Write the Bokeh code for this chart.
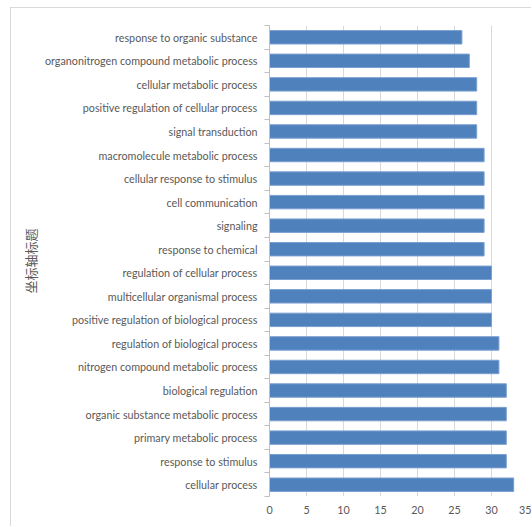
from bokeh.plotting import figure
from bokeh.models import Range1d, LinearAxis, FixedTicker, ColumnDataSource
from bokeh.embed import file_html
from bokeh.resources import INLINE

# categories listed top to bottom as in the chart
categories = [
    "response to organic substance",
    "organonitrogen compound metabolic process",
    "cellular metabolic process",
    "positive regulation of cellular process",
    "signal transduction",
    "macromolecule metabolic process",
    "cellular response to stimulus",
    "cell communication",
    "signaling",
    "response to chemical",
    "regulation of cellular process",
    "multicellular organismal process",
    "positive regulation of biological process",
    "regulation of biological process",
    "nitrogen compound metabolic process",
    "biological regulation",
    "organic substance metabolic process",
    "primary metabolic process",
    "response to stimulus",
    "cellular process",
]
counts = [26, 27, 28, 28, 28, 29, 29, 29, 29, 29,
          30, 30, 30, 31, 31, 32, 32, 32, 32, 33]
x_ticks = [0, 5, 10, 15, 20, 25, 30, 35]
axis_title = "坐标轴标题"

TEXT = "#595959"
FONT = "Lato"

n = len(categories)
centers = [n - i - 0.5 for i in range(n)]   # category slots, top to bottom
source = ColumnDataSource(data=dict(pos=centers, val=counts))

p = figure(width=521, height=519, output_backend="svg", toolbar_location=None,
           y_range=Range1d(0, n), x_range=Range1d(0, 35), y_axis_location=None,
           min_border_left=258, min_border_right=4, min_border_top=17,
           min_border_bottom=31)
p.outline_line_color = None
p.background_fill_color = "white"
p.border_fill_color = "white"
p.styles = {"margin-left": "10px", "margin-top": "7px",
            "border-left": "1px solid #D9D9D9", "border-top": "1px solid #D9D9D9"}
for g in p.ygrid:
    g.visible = False

# tick marks at category boundaries (nearest to plot)
edge_axis = LinearAxis(ticker=FixedTicker(ticks=list(range(n + 1))),
                       axis_line_color="#BFBFBF", major_tick_line_color="#BFBFBF",
                       major_tick_out=5, major_tick_in=0,
                       minor_tick_line_color=None,
                       major_label_text_font_size="1px",
                       major_label_text_alpha=0, major_label_standoff=0)
p.add_layout(edge_axis, "left")

cat_axis = LinearAxis(ticker=FixedTicker(ticks=centers),
                      major_label_overrides={c: name for c, name in zip(centers, categories)},
                      axis_line_color=None, major_tick_line_color=None,
                      minor_tick_line_color=None,
                      major_label_text_font=FONT,
                      major_label_text_font_size="10.75px",
                      major_label_text_color=TEXT,
                      major_label_standoff=1,
                      axis_label=axis_title,
                      axis_label_text_font="Noto Sans CJK SC",
                      axis_label_text_font_size="13px",
                      axis_label_text_font_style="normal",
                      axis_label_text_color=TEXT,
                      axis_label_standoff=2)
p.add_layout(cat_axis, "left")

p.xaxis.ticker = FixedTicker(ticks=x_ticks)
p.xaxis.axis_line_color = None
p.xaxis.major_tick_line_color = None
p.xaxis.minor_tick_line_color = None
p.xaxis.major_label_text_font = FONT
p.xaxis.major_label_text_font_size = "10.75px"
p.xaxis.major_label_text_color = TEXT
p.xaxis.major_label_standoff = 3

p.xgrid.ticker = FixedTicker(ticks=x_ticks[1:])
p.xgrid.grid_line_color = "#D9D9D9"
p.xgrid.grid_line_width = 1

p.hbar(y="pos", right="val", left=0, height=0.57, source=source,
       fill_color="#4F81BD", line_color="#7A9FD0", line_width=1)

open("out.html", "w").write(file_html(p, INLINE))
